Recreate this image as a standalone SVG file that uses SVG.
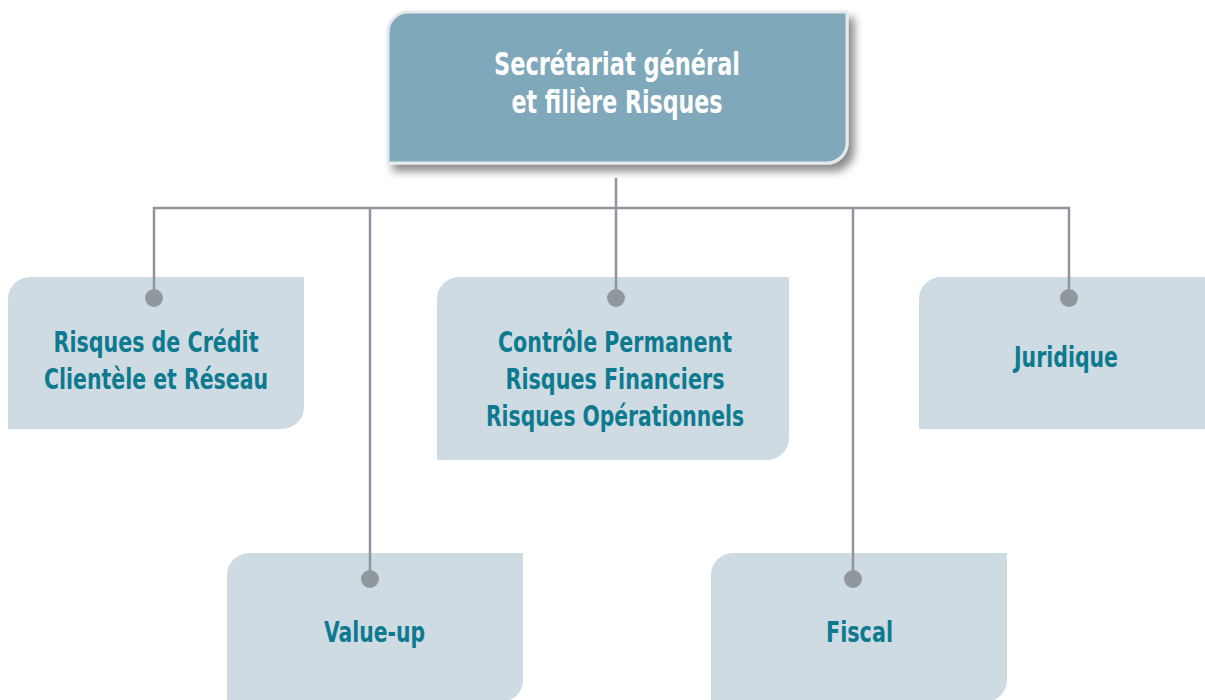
<svg xmlns="http://www.w3.org/2000/svg" width="1205" height="700" viewBox="0 0 1205 700">
<defs>
<filter id="sh" x="-10%" y="-10%" width="125%" height="140%">
<feDropShadow dx="6" dy="7" stdDeviation="4" flood-color="#000" flood-opacity="0.45"/>
</filter>
<style>
.node{fill:#CFDBE3}
.t{font-family:"DejaVu Sans Condensed","Liberation Sans",sans-serif;font-weight:bold;font-size:29px;fill:#0E7A90;text-anchor:middle}
.tt{font-family:"DejaVu Sans Condensed","Liberation Sans",sans-serif;font-weight:bold;font-size:32px;fill:#FFFFFF;text-anchor:middle}
.c{stroke:#8E959C;stroke-width:2.5;fill:none}
.d{fill:#91979E}
</style>
</defs>
<rect width="1205" height="700" fill="#FFFFFF"/>
<g id="root">
<path d="M408,12 H847 V143 A20,20 0 0 1 827,163 H388 V32 A20,20 0 0 1 408,12 Z" fill="#7FA8BA" stroke="#E6E9EB" stroke-width="3" filter="url(#sh)"/>
<text class="tt" x="617" y="75" textLength="246" lengthAdjust="spacingAndGlyphs">Secrétariat général</text>
<text class="tt" x="617" y="113" textLength="211" lengthAdjust="spacingAndGlyphs">et filière Risques</text>
</g>
<g id="credit">
<path class="node" d="M30,277 H304 V407 A22,22 0 0 1 282,429 H8 V299 A22,22 0 0 1 30,277 Z"/>
<text class="t" x="156" y="352" textLength="205" lengthAdjust="spacingAndGlyphs">Risques de Crédit</text>
<text class="t" x="156" y="389" textLength="224" lengthAdjust="spacingAndGlyphs">Clientèle et Réseau</text>
</g>
<g id="controle">
<path class="node" d="M459,277 H789 V438 A22,22 0 0 1 767,460 H437 V299 A22,22 0 0 1 459,277 Z"/>
<text class="t" x="615" y="352" textLength="234" lengthAdjust="spacingAndGlyphs">Contrôle Permanent</text>
<text class="t" x="615" y="389" textLength="219" lengthAdjust="spacingAndGlyphs">Risques Financiers</text>
<text class="t" x="615" y="426" textLength="258" lengthAdjust="spacingAndGlyphs">Risques Opérationnels</text>
</g>
<g id="juridique">
<path class="node" d="M941,277 H1205 V429 H919 V299 A22,22 0 0 1 941,277 Z"/>
<text class="t" x="1066" y="367" textLength="104" lengthAdjust="spacingAndGlyphs">Juridique</text>
</g>
<g id="valueup">
<path class="node" d="M249,553 H523 V680 A22,22 0 0 1 501,702 H227 V575 A22,22 0 0 1 249,553 Z"/>
<text class="t" x="374.5" y="642" textLength="101" lengthAdjust="spacingAndGlyphs">Value-up</text>
</g>
<g id="fiscal">
<path class="node" d="M733,553 H1007 V680 A22,22 0 0 1 985,702 H711 V575 A22,22 0 0 1 733,553 Z"/>
<text class="t" x="859.5" y="642" textLength="67" lengthAdjust="spacingAndGlyphs">Fiscal</text>
</g>
<g id="connectors">
<path class="c" d="M616,178 V208 M154,298 V208 H1069 V298 M370,208 V579 M616,208 V298 M853,208 V579"/>
<circle class="d" cx="154" cy="298" r="9"/>
<circle class="d" cx="370" cy="579" r="9"/>
<circle class="d" cx="616" cy="298" r="9"/>
<circle class="d" cx="853" cy="579" r="9"/>
<circle class="d" cx="1069" cy="298" r="9"/>
</g>
</svg>
